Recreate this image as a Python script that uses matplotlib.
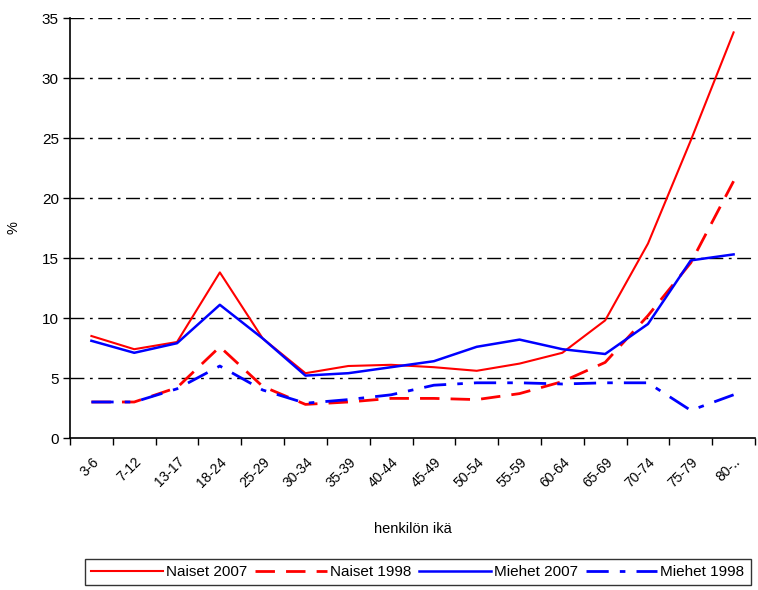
import matplotlib
matplotlib.use("Agg")
import matplotlib.pyplot as plt
from matplotlib.ticker import FixedLocator

plt.rcParams['font.family'] = ['Liberation Sans', 'DejaVu Sans']

categories = ["3-6", "7-12", "13-17", "18-24", "25-29", "30-34", "35-39", "40-44",
              "45-49", "50-54", "55-59", "60-64", "65-69", "70-74", "75-79", "80-.."]

naiset_2007 = [8.5, 7.4, 8.0, 13.8, 8.3, 5.4, 6.0, 6.1, 5.9, 5.6, 6.2, 7.1, 9.8, 16.2, 24.8, 33.8]
naiset_1998 = [3.0, 3.0, 4.2, 7.6, 4.3, 2.8, 3.0, 3.3, 3.3, 3.2, 3.7, 4.7, 6.3, 10.2, 14.6, 21.4]
miehet_2007 = [8.1, 7.1, 7.9, 11.1, 8.3, 5.2, 5.4, 5.9, 6.4, 7.6, 8.2, 7.4, 7.0, 9.5, 14.8, 15.3]
miehet_1998 = [3.0, 3.0, 4.1, 6.0, 4.0, 2.9, 3.2, 3.6, 4.4, 4.6, 4.6, 4.5, 4.6, 4.6, 2.3, 3.6]

yticks = [0, 5, 10, 15, 20, 25, 30, 35]

fig = plt.figure(figsize=(7.58, 5.90), dpi=100)
ax = fig.add_axes([70/758, 1-438/590, (755-70)/758, (438-18)/590])

x = list(range(len(categories)))

for yv in yticks[1:]:
    ax.axhline(yv, color='black', lw=1.0, ls=(0, (10, 4, 2, 4)), zorder=1)

ax.plot(x, naiset_2007, color='#ff0000', lw=1.5, ls='-', label='Naiset 2007', zorder=3)
ax.plot(x, naiset_1998, color='#ff0000', lw=2.0, ls=(0, (7, 4)), label='Naiset 1998', zorder=3)
ax.plot(x, miehet_2007, color='#0000ff', lw=1.8, ls='-', label='Miehet 2007', zorder=3)
ax.plot(x, miehet_1998, color='#0000ff', lw=2.0, ls=(0, (8, 4, 2, 4)), label='Miehet 1998', zorder=3)

ax.set_xlim(-0.5, len(categories) - 0.5)
ax.set_ylim(0, 35)
ax.set_yticks(yticks)
ax.set_yticklabels([str(v) for v in yticks], fontsize=11)
ax.set_xticks(x)
ax.set_xticklabels(categories, rotation=45, ha='right', rotation_mode='anchor', fontsize=10)
ax.tick_params(axis='x', which='major', length=0, pad=12)
ax.xaxis.set_minor_locator(FixedLocator([i - 0.5 for i in range(len(categories) + 1)]))
ax.tick_params(axis='x', which='minor', length=5, width=1, direction='out')
ax.tick_params(axis='y', length=5, width=1, direction='out', pad=3)

for s in ['top', 'right']:
    ax.spines[s].set_visible(False)
for s in ['left', 'bottom']:
    ax.spines[s].set_linewidth(1.2)

ax.set_ylabel('%', fontsize=10.5)
ax.yaxis.set_label_coords(-50/685, 0.5)
ax.set_xlabel('henkilön ikä', fontsize=10.5)
ax.xaxis.set_label_coords(0.5, -(522-438)/420, transform=ax.transAxes)

leg = fig.legend(loc='center', bbox_to_anchor=(418/758, 1-572/590), ncol=4,
                 fontsize=11, frameon=True, fancybox=False, shadow=False,
                 handlelength=4.7, columnspacing=0.5, handletextpad=0.2,
                 borderpad=0.4, edgecolor='black')
leg.get_frame().set_linewidth(1.0)

fig.savefig('out.png', dpi=100)
